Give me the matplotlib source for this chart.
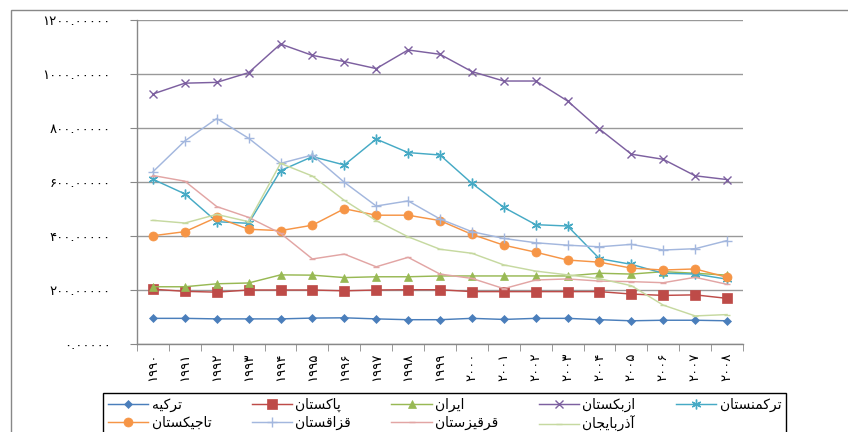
import numpy as np
import matplotlib
matplotlib.use('Agg')
import matplotlib.pyplot as plt
import matplotlib.patches as mpatches

plt.rcParams['font.family'] = ['DejaVu Sans']

# ── Data ──────────────────────────────────────────────────────────────────────

years = ['۱۹۹۰', '۱۹۹۱', '۱۹۹۲', '۱۹۹۳', '۱۹۹۴', '۱۹۹۵', '۱۹۹۶', '۱۹۹۷', '۱۹۹۸', '۱۹۹۹',
         '۲۰۰۰', '۲۰۰۱', '۲۰۰۲', '۲۰۰۳', '۲۰۰۴', '۲۰۰۵', '۲۰۰۶', '۲۰۰۷', '۲۰۰۸']

turkey = [95, 95, 93, 93, 93, 96, 97, 93, 90, 90, 95, 91, 95, 95, 90, 86, 88, 88, 86]
pakistan = [203, 195, 192, 200, 200, 200, 197, 200, 201, 201, 194, 194, 194, 194, 194, 185, 180, 182, 169]
iran = [212, 212, 223, 226, 256, 255, 246, 249, 249, 252, 252, 252, 252, 252, 262, 259, 268, 262, 255]
uzbekistan = [926, 966, 969, 1005, 1111, 1069, 1046, 1020, 1089, 1073, 1009, 974, 974, 900, 796, 703, 684, 623, 609]
turkmenistan = [610, 556, 453, 447, 642, 694, 663, 759, 709, 700, 595, 506, 442, 437, 316, 295, 262, 259, 240]
tajikistan = [401, 416, 469, 425, 420, 440, 501, 477, 477, 457, 406, 366, 340, 311, 303, 281, 274, 278, 247]
kazakhstan = [638, 752, 835, 762, 669, 700, 599, 511, 530, 463, 416, 391, 375, 366, 360, 369, 348, 353, 383]
kyrgyzstan = [624, 603, 509, 469, 410, 315, 333, 286, 321, 259, 243, 205, 237, 241, 233, 231, 227, 247, 221]
azerbaijan = [458, 448, 480, 453, 669, 622, 532, 457, 397, 351, 336, 293, 270, 256, 242, 216, 144, 104, 109]

names = ['ترکیه', 'پاکستان', 'ایران', 'ازبکستان', 'ترکمنستان',
         'تاجیکستان', 'قزاقستان', 'قرقیزستان', 'آذربایجان']

y_ticks = [0, 200, 400, 600, 800, 1000, 1200]


# ── Arabic script shaping (matplotlib has no bidi / joining) ─────────────────

FORMS = {
    'ا': ('\uFE8D', '\uFE8E'), 'آ': ('\uFE81', '\uFE82'),
    'ذ': ('\uFEAB', '\uFEAC'), 'ر': ('\uFEAD', '\uFEAE'), 'ز': ('\uFEAF', '\uFEB0'),
    'ب': ('\uFE8F', '\uFE90', '\uFE91', '\uFE92'),
    'ت': ('\uFE95', '\uFE96', '\uFE97', '\uFE98'),
    'ج': ('\uFE9D', '\uFE9E', '\uFE9F', '\uFEA0'),
    'س': ('\uFEB1', '\uFEB2', '\uFEB3', '\uFEB4'),
    'ف': ('\uFED1', '\uFED2', '\uFED3', '\uFED4'),
    'ق': ('\uFED5', '\uFED6', '\uFED7', '\uFED8'),
    'م': ('\uFEE1', '\uFEE2', '\uFEE3', '\uFEE4'),
    'ن': ('\uFEE5', '\uFEE6', '\uFEE7', '\uFEE8'),
    'ه': ('\uFEE9', '\uFEEA', '\uFEEB', '\uFEEC'),
    'پ': ('\uFB56', '\uFB57', '\uFB58', '\uFB59'),
    'ک': ('\uFB8E', '\uFB8F', '\uFB90', '\uFB91'),
    'ی': ('\uFBFC', '\uFBFD', '\uFBFE', '\uFBFF'),
}


def shape(word):
    out = []
    n = len(word)
    for i, c in enumerate(word):
        f = FORMS.get(c)
        if f is None:
            out.append(c)
            continue
        prev = i > 0 and word[i - 1] in FORMS and len(FORMS[word[i - 1]]) == 4
        nxt = i < n - 1 and word[i + 1] in FORMS and len(f) == 4
        if prev and nxt:
            out.append(f[3])
        elif prev:
            out.append(f[1])
        elif nxt:
            out.append(f[2])
        else:
            out.append(f[0])
    return ''.join(out)[::-1]


def fa_num(v):
    s = f'{v:.5f}'
    return s.translate(str.maketrans('0123456789', '۰۱۲۳۴۵۶۷۸۹'))


# ── Plot ──────────────────────────────────────────────────────────────────────

series = [turkey, pakistan, iran, uzbekistan, turkmenistan,
          tajikistan, kazakhstan, kyrgyzstan, azerbaijan]
colors = ['#4A7EBB', '#BE4B48', '#98B954', '#7D60A0', '#46AAC5',
          '#F69546', '#A3B7DE', '#E2A5A4', '#C6D9A0']
markers = ['D', 's', '^', 'x', (6, 2, 0), 'o', '+', '_', '_']
msizes = [4.5, 6.5, 5.5, 6, 7, 6.5, 7, 4, 4]

W, H = 848, 432
fig = plt.figure(figsize=(W / 100, H / 100), dpi=100)
ax = fig.add_axes([137 / W, 1 - 344 / H, (743 - 137) / W, (344 - 20) / H])

x = np.arange(len(years))
handles = []
for vals, name, c, m, ms in zip(series, names, colors, markers, msizes):
    thin = m in ('x', '+', '_') or isinstance(m, tuple)
    ln, = ax.plot(x, vals, color=c, marker=m, markersize=ms, linewidth=1.05,
                  markeredgewidth=1.0 if thin else 0.5,
                  markeredgecolor=c, label=shape(name))
    handles.append(ln)

ax.set_xlim(-0.5, len(years) - 0.5)
ax.set_ylim(0, 1200)
ax.set_yticks(y_ticks)
ax.set_yticklabels([fa_num(v) for v in y_ticks], fontsize=9.5)
ax.tick_params(axis='y', length=5, color='#888888', pad=14)

ax.set_xticks(x)
ax.set_xticklabels(years, rotation=90, fontsize=9.5, va='top')
ax.tick_params(axis='x', length=0, pad=6)
ax.set_xticks(np.arange(-0.5, len(years)), minor=True)
ax.tick_params(axis='x', which='minor', length=5, color='#888888')

ax.grid(True, axis='y', color='#999999', linewidth=1.0)
ax.set_axisbelow(True)
for s in ['top', 'right']:
    ax.spines[s].set_visible(False)
for s in ['left', 'bottom']:
    ax.spines[s].set_color('#888888')
    ax.spines[s].set_linewidth(1.0)

# chart-area border (cropped on the right / bottom in the original)
fig.add_artist(mpatches.Rectangle((11 / W, -0.1), 1.2, 1 - 10 / H + 0.1,
                                  transform=fig.transFigure, fill=False,
                                  edgecolor='#888888', linewidth=1.0))

order = [0, 5, 1, 6, 2, 7, 3, 8, 4]
leg = fig.legend([handles[i] for i in order], [shape(names[i]) for i in order],
                 loc='upper left', bbox_to_anchor=(103 / W, 1 - 393 / H),
                 ncol=5, fontsize=10, frameon=True, fancybox=False,
                 edgecolor='black', framealpha=1, borderaxespad=0,
                 handlelength=2.9, handletextpad=0.25, columnspacing=2.9,
                 labelspacing=0.3, borderpad=0.35)
leg.get_frame().set_linewidth(1.0)

fig.savefig('out.png', dpi=100)
